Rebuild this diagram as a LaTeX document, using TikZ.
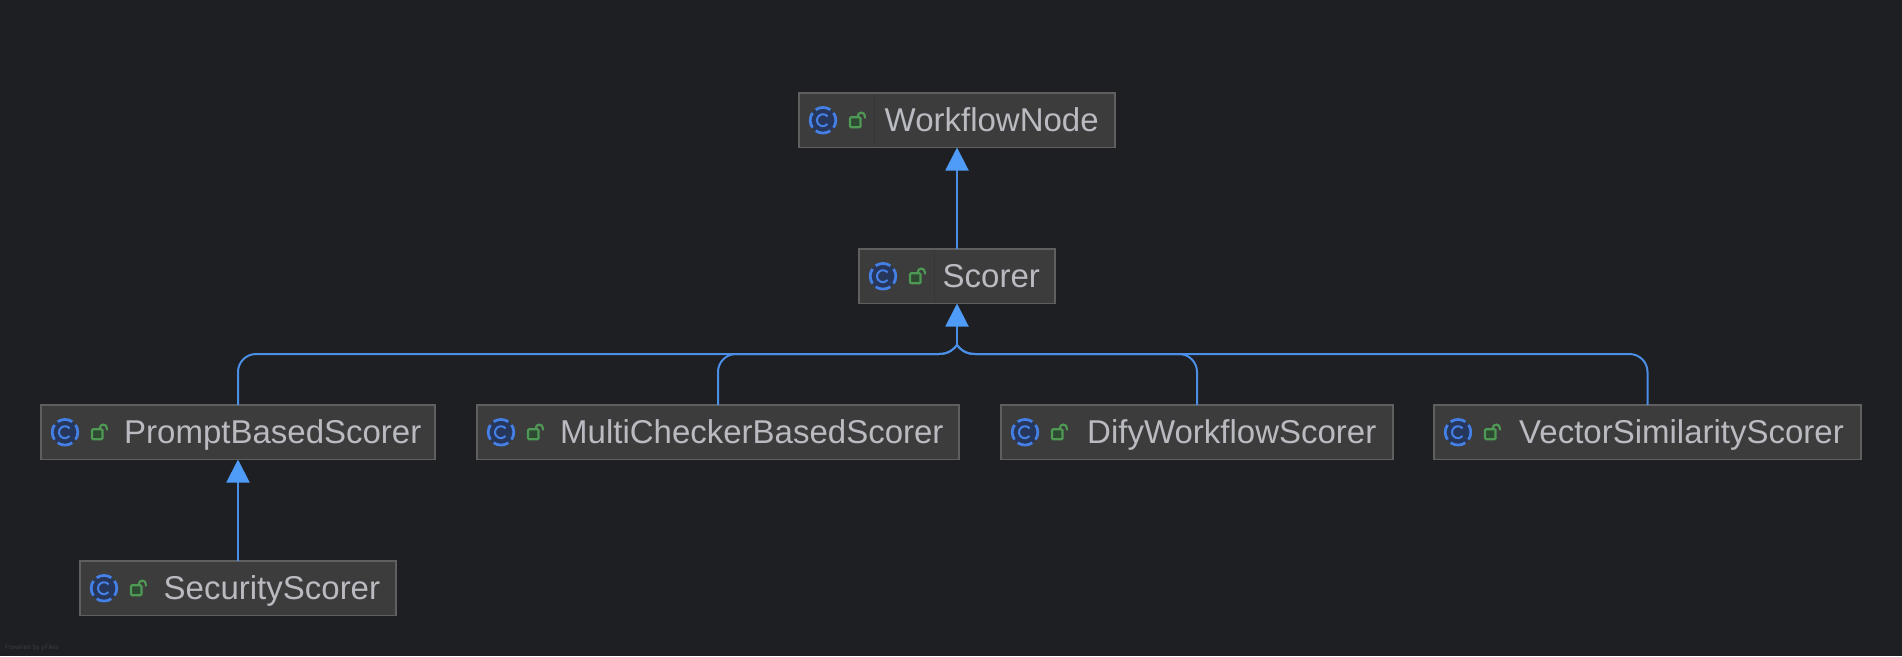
\documentclass[tikz,border=0pt]{standalone}
\usepackage{fontspec}
\setmainfont{Liberation Sans}
\usetikzlibrary{arrows.meta,calc}
\definecolor{bgc}{HTML}{1E1F22}
\definecolor{boxfill}{HTML}{3C3C3C}
\definecolor{boxline}{HTML}{5F5F5F}
\definecolor{divc}{HTML}{363636}
\definecolor{txtc}{HTML}{B9BBC1}
\definecolor{edgec}{HTML}{4A8EE6}
\definecolor{tipc}{HTML}{4F9BF8}
\definecolor{ringc}{HTML}{4580E6}
\definecolor{ringf}{HTML}{27375C}
\definecolor{lockc}{HTML}{4E9A55}
\definecolor{lockf}{HTML}{2E4A33}
\tikzset{
  x=1pt,y=-1pt,
  classbox/.style={draw=boxline,fill=boxfill,line width=1.2pt,inner sep=0pt,outer sep=0pt,minimum height=54.5pt},
  classlabel/.style={text=txtc,font=\fontsize{33}{35}\selectfont,inner sep=0pt,anchor=base west},
  edge/.style={draw=edgec,line width=2pt},
  tipped/.style={-{Triangle[length=23pt,width=23pt,fill=tipc,color=tipc]}},
  pics/classicon/.style={code={
    \fill[ringf] (0,0) circle[radius=13pt];
    \foreach \a in {0,90,180,270}{
      \draw[ringc,line width=2.7pt] ({\a-35}:12.8pt) arc[start angle=\a-35,delta angle=70,radius=12.8pt];
    }
    \draw[ringc,line width=2pt] (40:6pt) arc[start angle=40,delta angle=280,radius=6pt];
  }},
  pics/lockicon/.style={code={
    \draw[lockc,fill=lockf,line width=2.1pt,rounded corners=1pt] (-5.5,-3) rectangle (5,7);
    \draw[lockc,line width=2.1pt] (2.3,-3) -- (2.3,-4.2) arc[start angle=180,end angle=0,radius=3.5pt] -- (9.3,-2);
  }}
}
\newcommand{\classnode}[7]{% name,x1,x2,y1,label,divider,text offset
  \node[classbox,minimum width=#3-#2,anchor=north west] (#1) at (#2,#4) {};
  \pic at ($(#1.west)+(24,0)$) {classicon};
  \pic at ($(#1.west)+(56.5,0)$) {lockicon};
  \ifnum#6=1 \draw[divc,line width=1pt] ($(#1.north west)+(75.5,1)$) -- ($(#1.south west)+(75.5,-1)$);\fi
  \node[classlabel] (#1-text) at ($(#1.west)+(#7,11)$) {#5};
}
\begin{document}
\begin{tikzpicture}
\fill[bgc] (0,0) rectangle (1902,656);
\useasboundingbox (0,0) rectangle (1902,656);
\classnode{wf}{799}{1115}{93}{WorkflowNode}{1}{85.5}
\classnode{scorer}{859}{1055}{249}{Scorer}{1}{83.5}
\classnode{prompt}{41}{435}{405}{PromptBasedScorer}{0}{83}
\classnode{multi}{477}{959}{405}{MultiCheckerBasedScorer}{0}{83}
\classnode{dify}{1001}{1393}{405}{DifyWorkflowScorer}{0}{86}
\classnode{vector}{1434}{1861}{405}{VectorSimilarityScorer}{0}{85}
\classnode{security}{80}{396}{561}{SecurityScorer}{0}{83.5}
\coordinate (hub) at ($(scorer.south)+(0,50.5)$);
\coordinate (joint) at ($(scorer.south)+(0,41.5)$);
\draw[edge,tipped] (scorer.north) -- (wf.south);
\draw[edge,tipped] (security.north) -- (security.north |- prompt.south);
\draw[edge,tipped] (joint) -- (scorer.south);
\foreach \c/\s in {prompt/-1,multi/-1,dify/1,vector/1}{
  \draw[edge,rounded corners=18pt] (\c.north) |- ($(hub)+(\s*18,0)$);
  \draw[edge] ($(hub)+(\s*18,0)$) .. controls ($(hub)+(\s*8,0)$) and ($(joint)+(\s*3,4)$) .. (joint);
}
\node[text=boxline!45!bgc,font=\fontsize{6.5}{7}\selectfont,anchor=west,inner sep=0pt] (yf) at (5,648) {Powered by yFiles};
\end{tikzpicture}
\end{document}
